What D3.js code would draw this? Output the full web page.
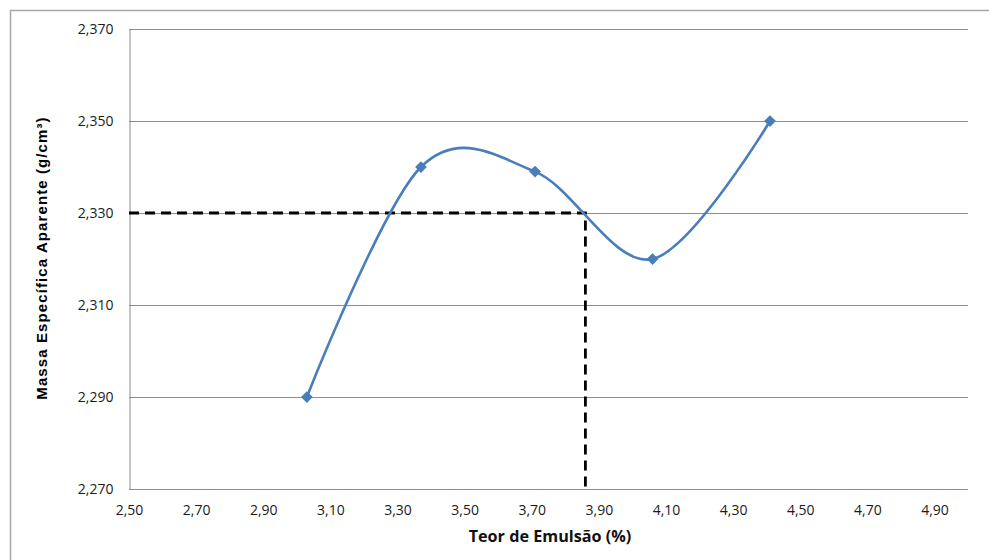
<!DOCTYPE html>
<html><head><meta charset="utf-8">
<script src="https://cdn.jsdelivr.net/npm/d3@7"></script>
<style>body{margin:0;background:#fff}svg{display:block}</style>
</head><body>
<script>
const teor = [3.03, 3.37, 3.71, 4.06, 4.41];
const massa = [2.290, 2.340, 2.339, 2.320, 2.350];
const xTicks = [2.5, 2.7, 2.9, 3.1, 3.3, 3.5, 3.7, 3.9, 4.1, 4.3, 4.5, 4.7, 4.9];
const yTicks = [2.27, 2.29, 2.31, 2.33, 2.35, 2.37];
const refX = 3.86, refY = 2.33;

const W = 989, H = 560;
const svg = d3.select("body").append("svg").attr("width", W).attr("height", H);
const m = {l:129, t:29, r:968, b:489};
const x = d3.scaleLinear().domain([2.5, 5.0]).range([m.l, m.r]);
const y = d3.scaleLinear().domain([2.27, 2.37]).range([m.b, m.t]);
const fmtY = d => d3.format(".3f")(d).replace(".", ",");
const fmtX = d => d3.format(".2f")(d).replace(".", ",");

// outer border
svg.append("path").attr("d", `M10.5,${H}V10.5H${W}`).attr("fill","none").attr("stroke","#a6a6a6").attr("stroke-width",1.5);

// gridlines
svg.append("g").selectAll("line").data(yTicks).join("line")
  .attr("x1", m.l).attr("x2", m.r).attr("y1", d => Math.round(y(d))+0.5).attr("y2", d => Math.round(y(d))+0.5)
  .attr("stroke", "#8c8c8c").attr("stroke-width", 1);

// y axis
const ya = svg.append("g").attr("transform", `translate(${m.l+0.5},0)`)
  .call(d3.axisLeft(y).tickValues(yTicks).tickFormat(fmtY).tickSize(0).tickPadding(16));
ya.select(".domain").attr("stroke","#8c8c8c");
ya.selectAll("text").attr("font-family","'Open Sans', sans-serif").attr("font-size",14).attr("fill","#1a1a1a");

// x axis
const xa = svg.append("g").attr("transform", `translate(0,${m.b+0.5})`)
  .call(d3.axisBottom(x).tickValues(xTicks).tickFormat(fmtX).tickSize(0).tickPadding(16));
xa.select(".domain").remove();
xa.selectAll("text").attr("font-family","'Open Sans', sans-serif").attr("font-size",14).attr("fill","#1a1a1a");

// reference dashed lines
svg.append("path")
  .attr("d", `M${x(2.5)},${y(refY)}H${x(refX)}V${y(2.27)}`)
  .attr("fill","none").attr("stroke","#000").attr("stroke-width",2.8).attr("stroke-dasharray","10,6");

// line
const pts = teor.map((d,i)=>[d, massa[i]]);
svg.append("path").datum(pts)
  .attr("d", d3.line().x(d=>x(d[0])).y(d=>y(d[1])).curve(d3.curveCatmullRom.alpha(0)))
  .attr("fill","none").attr("stroke","#4a7ebb").attr("stroke-width",2.6);

svg.append("g").selectAll("path").data(pts).join("path")
  .attr("transform", d => `translate(${x(d[0])},${y(d[1])})`)
  .attr("d", d3.symbol(d3.symbolDiamond2 ? d3.symbolDiamond2 : d3.symbolDiamond, 88)())
  .attr("fill","#4a7ebb");

// titles
svg.append("text").attr("x", 550).attr("y", 542).attr("text-anchor","middle")
  .attr("font-family","'Open Sans', sans-serif").attr("font-weight","bold").attr("font-size",16.2).attr("fill","#111")
  .text("Teor de Emulsão (%)");
svg.append("text").attr("transform","translate(47,258) rotate(-90)").attr("text-anchor","middle")
  .attr("font-family","'Liberation Sans', Arial, sans-serif").attr("font-weight","bold").attr("font-size",15).attr("fill","#000")
  .attr("letter-spacing","1.1")
  .text("Massa Específica Aparente (g/cm³)");
</script>
</body></html>
